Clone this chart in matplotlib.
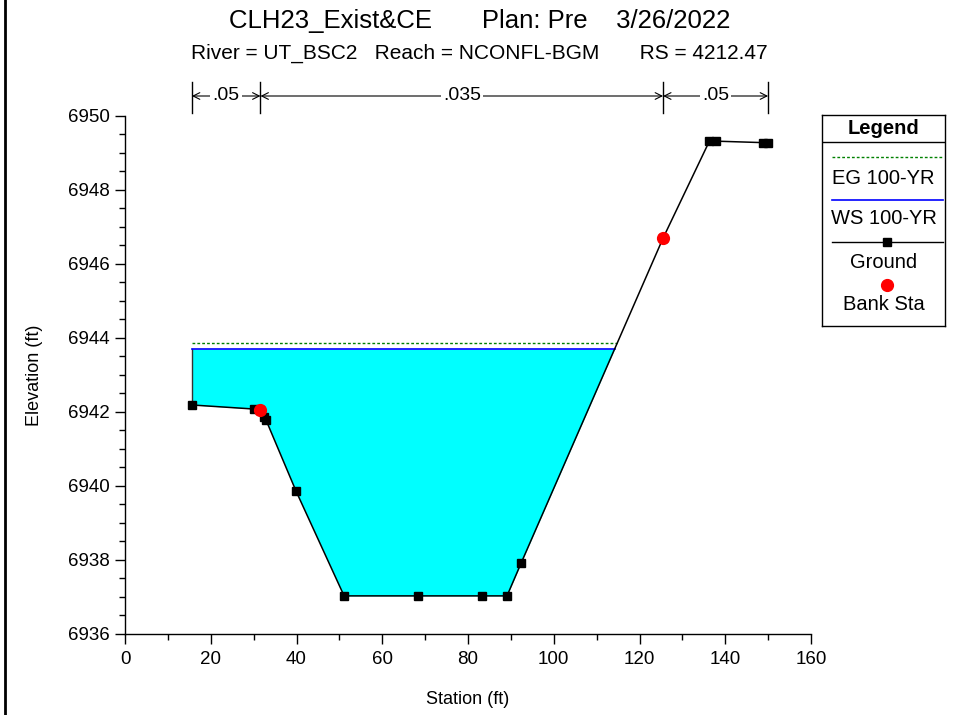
import numpy as np
import matplotlib
matplotlib.use("Agg")
import matplotlib.pyplot as plt
from matplotlib.lines import Line2D
from matplotlib.ticker import MultipleLocator
import matplotlib.transforms as mtransforms

plt.rcParams['font.family'] = ['Liberation Sans', 'DejaVu Sans']

# ground profile
station = [15.6, 30.1, 31.6, 32.4, 32.9, 39.9, 51.1, 68.3, 83.3, 89.1, 92.4, 125.5, 136.3, 137.9, 148.9, 150.0]
elev = [6942.19, 6942.08, 6942.05, 6941.86, 6941.78, 6939.86, 6937.03, 6937.03, 6937.03, 6937.03,
        6937.92, 6946.70, 6949.32, 6949.32, 6949.28, 6949.28]
bank_sta = [31.6, 125.5]
bank_elev = [6942.05, 6946.70]
ws_elev = 6943.70
eg_elev = 6943.87
n_sta = [15.6, 31.6, 125.5, 150.0]
n_vals = ['.05', '.035', '.05']

st = np.array(station)
el = np.array(elev)

# right edge of water: first crossing of level on the rising bank
def crossing(level):
    for i in range(len(st) - 1):
        if el[i] < level <= el[i + 1]:
            return st[i] + (level - el[i]) * (st[i + 1] - st[i]) / (el[i + 1] - el[i])
    return st[-1]

x_ws = crossing(ws_elev)
x_eg = crossing(eg_elev)

fig = plt.figure(figsize=(9.55, 7.15), dpi=100)
ax = fig.add_axes([125/955, 1 - 634/715, 686/955, 518/715])

ax.fill_between(st, el, ws_elev, where=el <= ws_elev, interpolate=True, color='#00FFFF', lw=0, zorder=1)
ax.plot([st[0], st[0]], [el[0], ws_elev], color='#333333', lw=1, zorder=2)
ax.plot([st[0], x_eg], [eg_elev, eg_elev], color='#008000', lw=1, ls=(0, (2, 1.5)), zorder=2)
ax.plot([st[0], x_ws], [ws_elev, ws_elev], color='#0000FF', lw=1.2, zorder=3)
ax.plot(st, el, color='black', lw=1.1, marker='s', ms=5.5, mec='black', mfc='black', zorder=4)
ax.plot(bank_sta, bank_elev, 'o', color='#FF0000', ms=8.5, zorder=5)

ax.set_xlim(0, 160)
ax.set_ylim(6936, 6950)
ax.xaxis.set_major_locator(MultipleLocator(20))
ax.xaxis.set_minor_locator(MultipleLocator(10))
ax.yaxis.set_major_locator(MultipleLocator(2))
ax.yaxis.set_minor_locator(MultipleLocator(0.5))
ax.tick_params(which='major', length=7, width=1, labelsize=13.5, direction='out')
ax.tick_params(axis='x', which='major', pad=5)
ax.tick_params(axis='y', which='major', pad=4)
ax.tick_params(which='minor', length=4.5, width=1, direction='out')
for s in ['top', 'right']:
    ax.spines[s].set_visible(False)
for s in ['left', 'bottom']:
    ax.spines[s].set_linewidth(1)
ax.set_xlabel('Station (ft)', fontsize=13)
ax.set_ylabel('Elevation (ft)', fontsize=13)
ax.xaxis.set_label_coords(0.5, -0.11)
ax.yaxis.set_label_coords(-0.12, 0.5)

# titles
fig.text(480/955, 1 - 21/715, 'CLH23_Exist&CE       Plan: Pre    3/26/2022', ha='center', va='center', fontsize=18.5)
fig.text(479/955, 1 - 53/715, 'River = UT_BSC2   Reach = NCONFL-BGM       RS = 4212.47', ha='center', va='center', fontsize=15)

# n-value bars above the plot
trans = mtransforms.blended_transform_factory(ax.transData, fig.transFigure)
y_top, y_bot, y_arr = 1 - 82/715, 1 - 113/715, 1 - 96/715
for x in n_sta:
    ax.plot([x, x], [y_bot, y_top], transform=trans, color='black', lw=1, clip_on=False)
for i, lab in enumerate(n_vals):
    x0, x1 = n_sta[i], n_sta[i + 1]
    ax.annotate('', xy=(x0, y_arr), xytext=(x1, y_arr), xycoords=trans, textcoords=trans,
                arrowprops=dict(arrowstyle='<->', lw=0.8, color='black', shrinkA=0, shrinkB=0,
                                mutation_scale=12), annotation_clip=False)
    ax.text((x0 + x1) / 2, y_arr, lab, transform=trans, ha='center', va='center', fontsize=14,
            bbox=dict(facecolor='white', edgecolor='none', pad=1.5))

# legend box
lg = fig.add_axes([822/955, 1 - 326/715, 123/955, 211/715])
lg.set_xlim(0, 1)
lg.set_ylim(0, 211)
lg.set_xticks([])
lg.set_yticks([])
for s in lg.spines.values():
    s.set_linewidth(1)
def py(p):
    return 326 - p
lg.text(0.5, py(128), 'Legend', ha='center', va='center', fontsize=14.5, fontweight='bold')
lg.plot([0, 1], [py(142), py(142)], color='black', lw=1)
lg.plot([0.08, 0.98], [py(157), py(157)], color='#008000', lw=1, ls=(0, (2, 1.5)))
lg.text(0.5, py(178), 'EG 100-YR', ha='center', va='center', fontsize=14.5)
lg.plot([0.08, 0.98], [py(200), py(200)], color='#0000FF', lw=1.2)
lg.text(0.5, py(218), 'WS 100-YR', ha='center', va='center', fontsize=14.5)
lg.plot([0.08, 0.98], [py(242), py(242)], color='black', lw=1)
lg.plot([0.53], [py(242)], 's', color='black', ms=5.5)
lg.text(0.5, py(262), 'Ground', ha='center', va='center', fontsize=14.5)
lg.plot([0.53], [py(285)], 'o', color='#FF0000', ms=8.5)
lg.text(0.5, py(305), 'Bank Sta', ha='center', va='center', fontsize=14.5)

# left frame line
fig.add_artist(Line2D([5/955, 5/955], [0, 1], color='black', lw=2))

fig.savefig('out.png', dpi=100)
